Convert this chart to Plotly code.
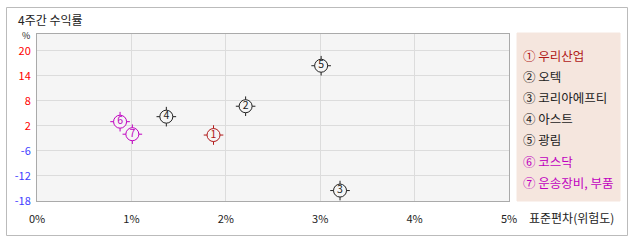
import plotly.graph_objects as go

# ---- data ----
labels = ["1", "2", "3", "4", "5", "6", "7"]
names = ["우리산업", "오텍", "코리아에프티", "아스트", "광림", "코스닥", "운송장비, 부품"]
circled = ["①", "②", "③", "④", "⑤", "⑥", "⑦"]
risk = [1.87, 2.21, 3.21, 1.37, 3.01, 0.88, 1.01]        # 표준편차 (%)
ret = [-2.2, 4.7, -15.5, 2.2, 14.4, 1.0, -2.0]            # 4주간 수익률 (axis units)
colors = ["#b01818", "#222222", "#222222", "#222222", "#222222", "#c000c0", "#c000c0"]

y_tickvals = [18, 12, 6, 0, -6, -12, -18]
y_ticktext = ["20", "14", "8", "2", "-6", "-12", "-18"]
y_tickcolors = ["#ff0000", "#ff0000", "#ff0000", "#ff0000", "#4040ff", "#4040ff", "#4040ff"]
x_tickvals = [0, 1, 2, 3, 4, 5]
x_ticktext = ["0%", "1%", "2%", "3%", "4%", "5%"]

W, H = 638, 242
L, R, T, B = 37, 129, 34, 41
pw, ph = W - L - R, H - T - B


def px(x):
    return (x - L) / pw


def py(y):
    return (H - B - y) / ph


FONT = "Noto Sans CJK KR, DejaVu Sans, sans-serif"

fig = go.Figure()
fig.add_trace(go.Scatter(
    x=risk, y=ret, mode="markers",
    marker=dict(symbol="cross-thin-open", size=14, color=colors,
                line=dict(color=colors, width=1)),
    hoverinfo="skip", showlegend=False))
fig.add_trace(go.Scatter(
    x=risk, y=ret, mode="markers+text", text=labels,
    textposition="middle center",
    textfont=dict(family=FONT, size=10.5, color=colors),
    marker=dict(symbol="circle", size=13, color="#f5f5f5", line=dict(color=colors, width=1)),
    showlegend=False))

fig.update_layout(
    width=W, height=H,
    margin=dict(l=L, r=R, t=T, b=B),
    paper_bgcolor="white", plot_bgcolor="#f5f5f5",
    font=dict(family=FONT, size=11, color="#222"),
    showlegend=False,
)
fig.update_xaxes(range=[0, 5], tickvals=x_tickvals, ticktext=x_ticktext,
                 showgrid=True, gridcolor="#dcdcdc", gridwidth=1, zeroline=False,
                 showline=True, linecolor="#aaaaaa", mirror=True, ticks="",
                 ticklabelstandoff=8,
                 tickfont=dict(size=11, color="#222"))
fig.update_yaxes(range=[-18, 22], tickvals=y_tickvals,
                 ticktext=[f"<span style='color:{c}'>{t}</span>" for t, c in zip(y_ticktext, y_tickcolors)],
                 showgrid=True, gridcolor="#dcdcdc", gridwidth=1, zeroline=False,
                 showline=True, linecolor="#aaaaaa", mirror=True, ticks="",
                 ticklabelstandoff=3,
                 tickfont=dict(size=11))

# outer frame
fig.add_shape(type="rect", xref="paper", yref="paper",
              x0=px(6.5), x1=px(627.5), y0=py(235.5), y1=py(7.5),
              line=dict(color="#bbbbbb", width=1), fillcolor="rgba(0,0,0,0)", layer="below")

# legend box
fig.add_shape(type="rect", xref="paper", yref="paper",
              x0=px(517), x1=px(620), y0=py(201), y1=py(33),
              line=dict(color="#f5e6de", width=1), fillcolor="#f5e6de", layer="below")

for i, (c, n, col) in enumerate(zip(circled, names, colors)):
    fig.add_annotation(xref="paper", yref="paper", x=px(521), y=py(55 + i * 21.2),
                       text=f"{c} {n}", showarrow=False, xanchor="left", yanchor="middle",
                       font=dict(family=FONT, size=12.5, color=col))

fig.add_annotation(xref="paper", yref="paper", x=px(16), y=py(19), text="4주간 수익률",
                   showarrow=False, xanchor="left", yanchor="middle",
                   font=dict(family=FONT, size=12, color="#222"))
fig.add_annotation(xref="paper", yref="paper", x=px(26), y=py(35), text="%",
                   showarrow=False, xanchor="center", yanchor="middle",
                   font=dict(family=FONT, size=9, color="#222"))
fig.add_annotation(xref="paper", yref="paper", x=px(527), y=py(217), text="표준편차(위험도)",
                   showarrow=False, xanchor="left", yanchor="middle",
                   font=dict(family=FONT, size=12, color="#222"))

fig.write_html("out.html")
